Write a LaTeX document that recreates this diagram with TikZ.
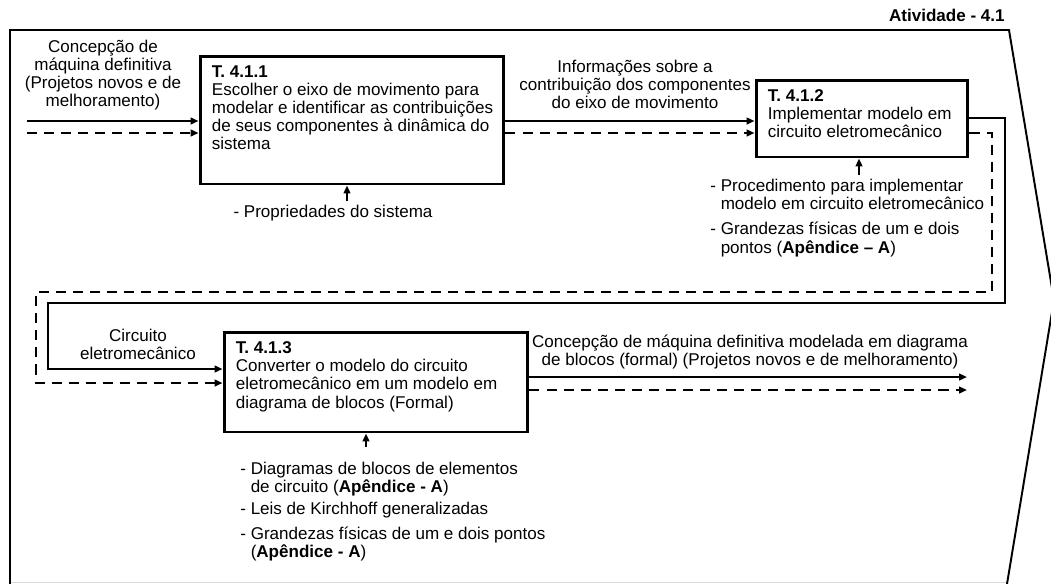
\documentclass[tikz,border=0pt]{standalone}
\usepackage{fontspec}
\setmainfont{Liberation Sans}
\usetikzlibrary{arrows.meta}

\begin{document}
\begin{tikzpicture}[x=0.02cm,y=-0.02cm,line cap=butt,line join=miter,
  every node/.style={inner sep=0pt,font=\fontsize{9.7}{10.3}\selectfont},
  frame/.style={line width=1.1pt},
  taskbox/.style={draw,line width=1.7pt,rectangle,inner sep=0pt},
  tasktext/.style={anchor=north west,align=left},
  flow/.style={line width=1.1pt,-{Triangle[length=4.5pt,width=3.8pt]}},
  flowd/.style={flow,dash pattern=on 5.7pt off 4pt},
  note/.style={align=center},
  ctrlnote/.style={anchor=north west,align=left}]
  \useasboundingbox (0,0) rectangle (1051,583);
  \clip (0,0) rectangle (1051,583);
  % moldura da atividade
  \draw[gray!30,line width=0.4pt] (10,582) -- (1008,582);
  \draw[frame] (10,590) -- (10,30) -- (1009,30) -- (1054,300) -- (1006,590);
  \node[anchor=east,font=\fontsize{9.7}{10.3}\selectfont\bfseries] (ativ) at (1005,15) {Atividade - 4.1};
  % tarefas
  \node[taskbox,minimum width=6.08cm,minimum height=2.56cm] (t1) at (352,120) {};
  \node[taskbox,minimum width=4.24cm,minimum height=1.54cm] (t2) at (862,118.5) {};
  \node[taskbox,minimum width=6.08cm,minimum height=2.0cm] (t3) at (376,382) {};
  \node[tasktext] (t1txt) at ([shift={(13,11)}]t1.north west) {\textbf{T. 4.1.1}\\Escolher o eixo de movimento para\\modelar e identificar as contribuições\\de seus componentes à dinâmica do\\sistema};
  \node[tasktext] (t2txt) at ([shift={(13,11)}]t2.north west) {\textbf{T. 4.1.2}\\Implementar modelo em\\circuito eletromecânico};
  \node[tasktext] (t3txt) at ([shift={(13,11)}]t3.north west) {\textbf{T. 4.1.3}\\Converter o modelo do circuito\\eletromecânico em um modelo em\\diagrama de blocos (Formal)};
  % entradas e saidas
  \coordinate (a0) at (27,121);
  \coordinate (b0) at (27,133);
  \coordinate (s1) at (1005,303);
  \coordinate (s2) at (48,369);
  \coordinate (d1) at (992,292);
  \coordinate (d2) at (36,383);
  \coordinate (e1) at (967,377);
  \coordinate (e2) at (967,390);
  \draw[flow] (a0) -- (a0 -| t1.west);
  \draw[flowd] (b0) -- (b0 -| t1.west);
  \draw[flow] (t1.east |- a0) -- (t2.west |- a0);
  \draw[flowd] (t1.east |- b0) -- (t2.west |- b0);
  \draw[flow] (t2.east |- 0,118) -| (s1) -| (s2) -- (s2 -| t3.west);
  \draw[flowd] (t2.east |- b0) -| (d1) -| (d2) -- (d2 -| t3.west);
  \draw[flow] (t3.east |- e1) -- (e1);
  \draw[flowd] (t3.east |- e2) -- (e2);
  \node[note] (in1) at (103,75) {Concepção de\\máquina definitiva\\(Projetos novos e de\\melhoramento)};
  \node[note] (info) at (635,84) {Informações sobre a\\contribuição dos componentes\\do eixo de movimento};
  \node[note] (circ) at (138,344) {Circuito\\eletromecânico};
  \node[note] (out1) at (750,352) {Concepção de máquina definitiva modelada em diagrama\\de blocos (formal) (Projetos novos e de melhoramento)};
  % controles
  \coordinate (m1) at (347,201);
  \coordinate (m2) at (859,175);
  \coordinate (m3) at (366,447);
  \draw[flow] (m1) -- (m1 |- t1.south);
  \draw[flow] (m2) -- (m2 |- t2.south);
  \draw[flow] (m3) -- (m3 |- t3.south);
  \node[note] (c1) at (333,213) {- Propriedades do sistema};
  \node[ctrlnote] (c2) at (710,179) {- Procedimento para implementar\\\phantom{- }modelo em circuito eletromecânico\\[4pt]- Grandezas físicas de um e dois\\\phantom{- }pontos (\textbf{Apêndice – A})};
  \node[ctrlnote] (c3) at (240,462) {- Diagramas de blocos de elementos\\\phantom{- }de circuito (\textbf{Apêndice - A})\\[2pt]- Leis de Kirchhoff generalizadas\\[4pt]- Grandezas físicas de um e dois pontos\\\phantom{- }(\textbf{Apêndice - A})};
\end{tikzpicture}
\end{document}
